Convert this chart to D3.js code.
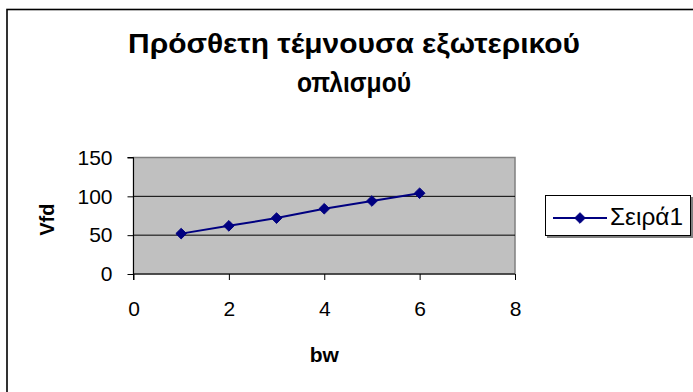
<!DOCTYPE html>
<html>
<head>
<meta charset="utf-8">
<script src="https://cdn.jsdelivr.net/npm/d3@7"></script>
<style>
  html, body { margin: 0; padding: 0; background: #fff; }
  svg { display: block; }
  text { font-family: "Liberation Sans", Arial, sans-serif; fill: #000; }
</style>
</head>
<body>
<svg id="chart" width="693" height="392"></svg>
<script>
// Series data
const bwValues = [1, 2, 3, 4, 5, 6];
const vfdValues = [52, 62, 72, 84, 94, 104];
const xTicks = [0, 2, 4, 6, 8];
const yTicks = [0, 50, 100, 150];
const titleLines = ["Πρόσθετη τέμνουσα εξωτερικού", "οπλισμού"];
const seriesName = "Σειρά1";
const xLabel = "bw";
const yLabel = "Vfd";

const svg = d3.select("#chart");
const plot = { left: 133.5, right: 515, top: 157.5, bottom: 274 };
const navy = "#000080";

// Outer chart frame
svg.append("rect")
  .attr("x", 7).attr("y", 9.5).attr("width", 720).attr("height", 420)
  .attr("fill", "#fff").attr("stroke", "#000").attr("stroke-width", 1.6);

const x = d3.scaleLinear().domain([0, 8]).range([plot.left, plot.right]);
const y = d3.scaleLinear().domain([0, 150]).range([plot.bottom, plot.top]);

// Plot background
svg.append("rect")
  .attr("x", plot.left).attr("y", plot.top)
  .attr("width", plot.right - plot.left).attr("height", plot.bottom - plot.top)
  .attr("fill", "#c0c0c0").attr("stroke", "#808080").attr("stroke-width", 1.5);

// Horizontal gridlines
svg.append("g").selectAll("line")
  .data(yTicks.filter(t => t > 0 && t < 150))
  .join("line")
  .attr("x1", plot.left).attr("x2", plot.right)
  .attr("y1", d => y(d)).attr("y2", d => y(d))
  .attr("stroke", "#000").attr("stroke-width", 1);

// Axes
const yAxis = d3.axisLeft(y).tickValues(yTicks).tickSize(6).tickPadding(15).tickFormat(d3.format("d"));
const xAxis = d3.axisBottom(x).tickValues(xTicks).tickSize(6).tickPadding(21).tickFormat(d3.format("d"));

const gy = svg.append("g").attr("transform", `translate(${plot.left},0)`).call(yAxis);
const gx = svg.append("g").attr("transform", `translate(0,${plot.bottom})`).call(xAxis);

[gx, gy].forEach(g => {
  g.select(".domain").attr("stroke", "#000").attr("stroke-width", 1);
  g.selectAll(".tick line").attr("stroke", "#000").attr("stroke-width", 1);
  g.selectAll(".tick text")
    .attr("font-family", "Liberation Sans, Arial, sans-serif")
    .attr("font-size", 21).attr("fill", "#000");
});
gy.select(".domain").attr("d", `M-6,${plot.top}H0V${plot.bottom}`);
gx.select(".domain").attr("d", `M${plot.left},6V0H${plot.right}`);

// Series line and diamond markers
const pts = bwValues.map((b, i) => [b, vfdValues[i]]);
svg.append("path")
  .datum(pts)
  .attr("d", d3.line().x(d => x(d[0])).y(d => y(d[1])))
  .attr("fill", "none").attr("stroke", navy).attr("stroke-width", 2);

const diamond = d3.symbol().type(d3.symbolDiamond2).size(72);
svg.append("g").selectAll("path")
  .data(pts)
  .join("path")
  .attr("transform", d => `translate(${x(d[0])},${y(d[1])})`)
  .attr("d", diamond)
  .attr("fill", navy).attr("stroke", navy).attr("stroke-width", 1);

// Title, two centred lines
const titleWidths = [452, 114];
svg.append("g").selectAll("text")
  .data(titleLines)
  .join("text")
  .attr("x", 354).attr("y", (d, i) => 53 + i * 39)
  .attr("text-anchor", "middle")
  .attr("font-size", 28).attr("font-weight", "bold")
  .attr("textLength", (d, i) => titleWidths[i])
  .attr("lengthAdjust", "spacingAndGlyphs")
  .text(d => d);

// Axis titles
svg.append("text")
  .attr("x", (plot.left + plot.right) / 2).attr("y", 362)
  .attr("text-anchor", "middle").attr("font-size", 21).attr("font-weight", "bold")
  .text(xLabel);
svg.append("text")
  .attr("transform", `translate(54,${(plot.top + plot.bottom) / 2 + 4}) rotate(-90)`)
  .attr("text-anchor", "middle").attr("font-size", 20).attr("font-weight", "bold")
  .text(yLabel);

// Legend
const lg = svg.append("g");
lg.append("rect")
  .attr("x", 547).attr("y", 197).attr("width", 146).attr("height", 41)
  .attr("fill", "#808080");
lg.append("rect")
  .attr("x", 545.5).attr("y", 195.5).attr("width", 145).attr("height", 40)
  .attr("fill", "#fff").attr("stroke", "#000").attr("stroke-width", 1);
lg.append("line")
  .attr("x1", 553).attr("x2", 607).attr("y1", 218).attr("y2", 218)
  .attr("stroke", navy).attr("stroke-width", 2);
lg.append("path")
  .attr("transform", "translate(580,218)")
  .attr("d", diamond)
  .attr("fill", navy).attr("stroke", navy);
lg.append("text")
  .attr("x", 610).attr("y", 225)
  .attr("font-size", 23)
  .attr("textLength", 73)
  .attr("lengthAdjust", "spacingAndGlyphs")
  .text(seriesName);
</script>
</body>
</html>
